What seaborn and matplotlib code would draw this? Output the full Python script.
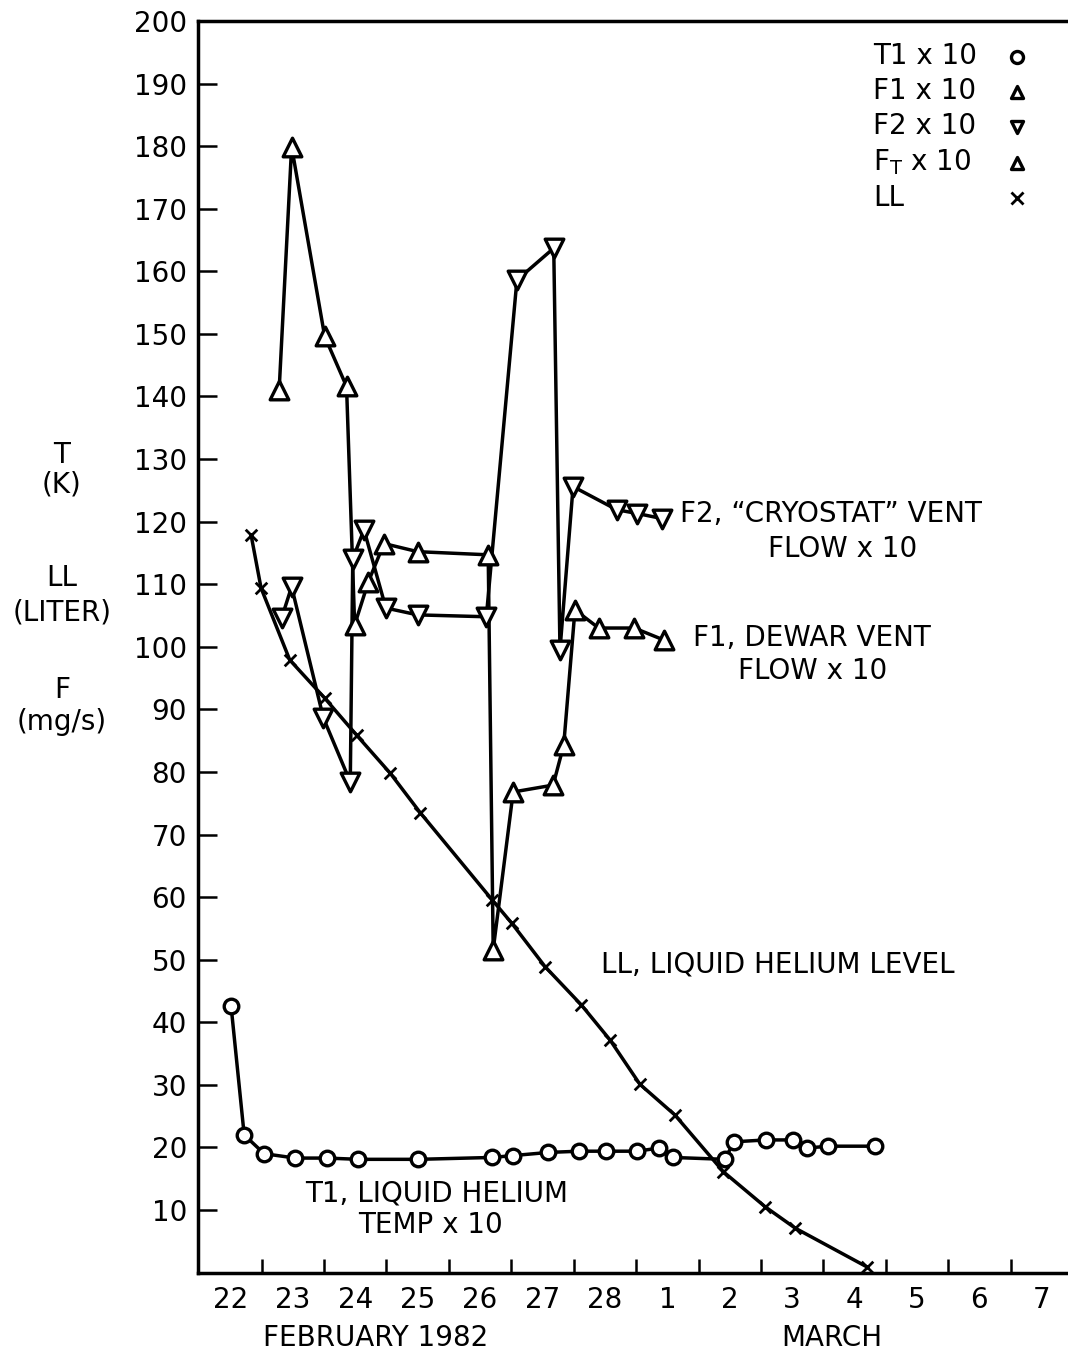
import numpy as np
import pandas as pd
import seaborn as sns
import matplotlib.pyplot as plt

# x = days after 22 Feb 1982, 00:00 ; values are the plotted (x10) numbers
day_labels = ["22", "23", "24", "25", "26", "27", "28", "1", "2", "3", "4", "5", "6", "7"]

ll_days = [0.83, 0.99, 1.45, 2.01, 2.52, 3.06, 3.54, 4.69, 5.01, 5.54, 6.12, 6.58,
           7.06, 7.62, 8.40, 9.07, 9.55, 10.70]
ll_vals = [117.9, 109.4, 97.9, 91.8, 85.9, 79.8, 73.5, 59.6, 55.8, 48.9, 42.8, 37.2,
           30.1, 25.2, 16.1, 10.5, 7.1, 0.9]

t1_days = [0.51, 0.72, 1.04, 1.54, 2.05, 2.55, 3.51, 4.69, 5.03, 5.59, 6.09, 6.51,
           7.01, 7.37, 7.59, 8.42, 8.57, 9.08, 9.52, 9.73, 10.08, 10.83]
t1_vals = [42.6, 22.0, 19.0, 18.3, 18.3, 18.1, 18.1, 18.4, 18.7, 19.2, 19.4, 19.4,
           19.4, 19.9, 18.4, 18.1, 20.9, 21.2, 21.2, 19.9, 20.2, 20.2]

f2_days = [1.32, 1.48, 1.99, 2.42, 2.46, 2.64, 2.99, 3.50, 4.60, 5.09, 5.68, 5.78,
           5.99, 6.69, 7.02, 7.41]
f2_vals = [104.6, 109.6, 88.6, 78.4, 114.1, 118.7, 106.2, 105.1, 104.8, 158.6, 163.7,
           99.5, 125.6, 121.9, 121.3, 120.5]

ft_days = [1.28, 1.48, 2.01, 2.36]
ft_vals = [141.0, 179.9, 149.6, 141.6]

f1_days = [2.49, 2.71, 2.96, 3.50, 4.63, 4.71, 5.03, 5.67, 5.84, 6.02, 6.40, 6.97, 7.44]
f1_vals = [103.5, 110.4, 116.5, 115.2, 114.7, 51.6, 76.8, 77.9, 84.3, 105.9, 103.0,
           103.0, 101.1]

sns.set_style("white")
plt.rcParams["font.family"] = ["DejaVu Sans"]
plt.rcParams["mathtext.default"] = "regular"
plt.rcParams["text.color"] = "black"
plt.rcParams["xtick.color"] = "black"
plt.rcParams["ytick.color"] = "black"
FS = 20

W, H = 1068, 1353
fig = plt.figure(figsize=(W / 100, H / 100), dpi=100)
ax = fig.add_axes([198 / W, 1 - 1272.6 / H, 1 - 198 / W, (1272.6 - 21) / H])

LW = 2.5
line_kw = dict(color="black", lw=LW, sort=False, estimator=None, ax=ax, legend=False)

# connecting lines
sns.lineplot(x=t1_days, y=t1_vals, **line_kw)
sns.lineplot(x=ll_days, y=ll_vals, **line_kw)
sns.lineplot(x=f2_days, y=f2_vals, **line_kw)
sns.lineplot(x=ft_days + f1_days, y=ft_vals + f1_vals, **line_kw)

# markers
hollow = dict(color="white", edgecolor="black", linewidth=2.4, ax=ax, zorder=3)
sns.scatterplot(x=t1_days, y=t1_vals, marker="o", s=110, label="T1 x 10", **hollow)
sns.scatterplot(x=f1_days, y=f1_vals, marker="^", s=180, label="F1 x 10", **hollow)
sns.scatterplot(x=f2_days, y=f2_vals, marker="v", s=180, label="F2 x 10", **hollow)
sns.scatterplot(x=ft_days, y=ft_vals, marker="^", s=180, label="F$_T$ x 10", **hollow)
sns.scatterplot(x=ll_days, y=ll_vals, marker="x", s=70, color="black", linewidth=2,
                label="LL", ax=ax, zorder=3)

ax.set_xlim(-0.02, 13.92)
ax.set_ylim(0, 200)
ax.set_xticks(range(1, 14))
ax.set_xticklabels([])
ax.set_xticks(np.arange(0.5, 14), minor=True)
ax.set_xticklabels(day_labels, minor=True, fontsize=FS)
ax.tick_params(axis="x", which="major", direction="in", length=10, width=1.8,
               bottom=True)
ax.tick_params(axis="x", which="minor", length=0, pad=10)
ax.set_yticks(range(10, 201, 10))
ax.set_yticklabels([str(v) for v in range(10, 201, 10)], fontsize=FS)
ax.tick_params(axis="y", direction="in", length=14, width=1.8, left=True, pad=8)
for side in ["left", "bottom", "top"]:
    ax.spines[side].set_linewidth(2.5)
    ax.spines[side].set_color("black")
ax.spines["right"].set_visible(False)
ax.set_xlabel("")
ax.set_ylabel("")

# legend: keep markers from matplotlib, redraw the labels left-aligned
leg = ax.legend(loc="upper right", bbox_to_anchor=(1031 / W, 1 - 42 / H),
                bbox_transform=fig.transFigure, frameon=False, markerfirst=False,
                fontsize=FS, handlelength=1.0, handletextpad=1.1, labelspacing=0.25,
                borderpad=0, borderaxespad=0, scatterpoints=1)
for h in leg.legend_handles:
    h.set_sizes([75])
fig.canvas.draw()
renderer = fig.canvas.get_renderer()
for t in leg.get_texts():
    bb = t.get_window_extent(renderer)
    t.set_alpha(0)
    fig.text(873 / W, bb.y0 / H, t.get_text(), ha="left", va="bottom", fontsize=FS)

# curve annotations
txt = dict(fontsize=FS, color="black", va="center")
ax.text(7.70, 121.2, "F2, \u201cCRYOSTAT\u201d VENT", ha="left", **txt)
ax.text(10.31, 115.6, "FLOW x 10", ha="center", **txt)
ax.text(7.91, 101.4, "F1, DEWAR VENT", ha="left", **txt)
ax.text(9.83, 96.1, "FLOW x 10", ha="center", **txt)
ax.text(9.27, 49.3, "LL, LIQUID HELIUM LEVEL", ha="center", **txt)
ax.text(3.80, 12.7, "T1, LIQUID HELIUM", ha="center", **txt)
ax.text(3.71, 7.6, "TEMP x 10", ha="center", **txt)

# axis captions
fig.text(376 / W, 1 - 1338 / H, "FEBRUARY 1982", ha="center", va="center", fontsize=FS)
fig.text(832 / W, 1 - 1338 / H, "MARCH", ha="center", va="center", fontsize=FS)
for label, ypix in [("T", 455), ("(K)", 485), ("LL", 578), ("(LITER)", 612),
                    ("F", 690), ("(mg/s)", 722)]:
    fig.text(62 / W, 1 - ypix / H, label, ha="center", va="center", fontsize=FS)

fig.savefig("out.png", dpi=100, facecolor="white")
